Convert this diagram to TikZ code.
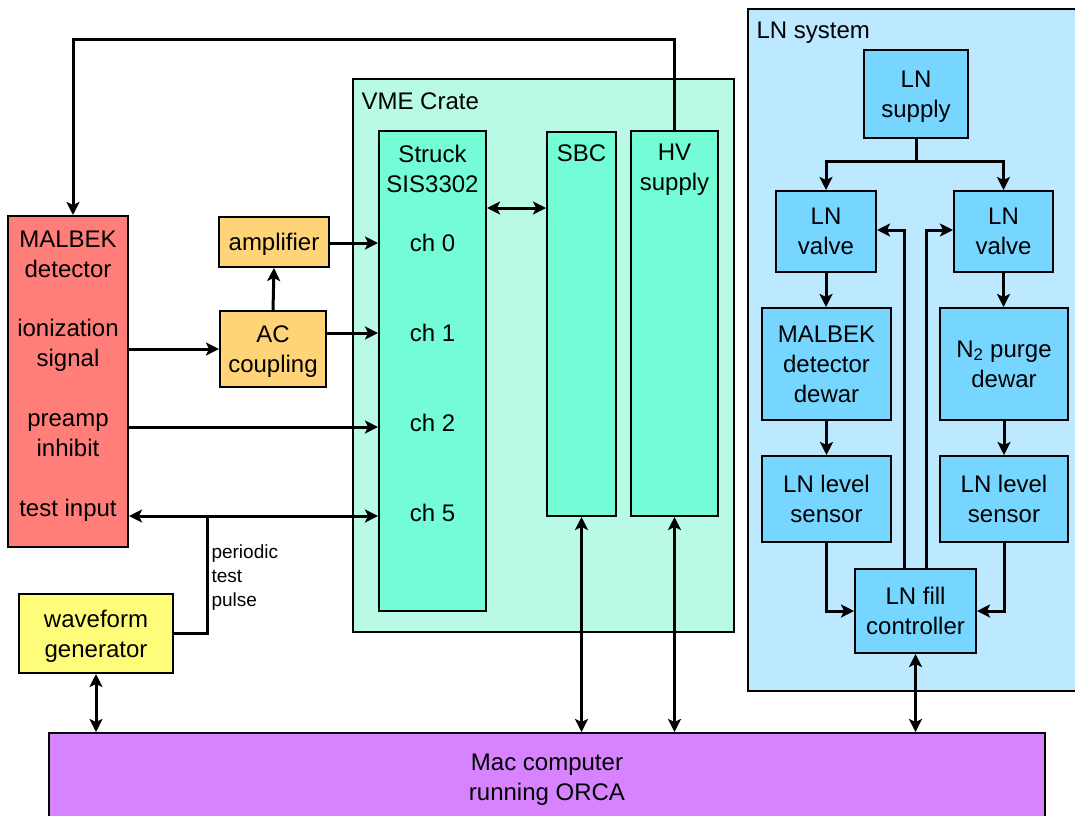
\documentclass[tikz,border=0pt]{standalone}
\usepackage{fontspec}
\setmainfont{Liberation Sans}
\usetikzlibrary{arrows.meta,positioning,calc}
\definecolor{salmon}{HTML}{FF7E79}
\definecolor{cantaloupe}{HTML}{FFD479}
\definecolor{banana}{HTML}{FFFC79}
\definecolor{spindrift}{HTML}{73FCD6}
\definecolor{spindriftlt}{HTML}{B9FAE6}
\definecolor{sky}{HTML}{76D6FF}
\definecolor{skylt}{HTML}{BCE9FF}
\definecolor{lavender}{HTML}{D783FF}

\begin{document}
\begin{tikzpicture}[x=1pt,y=-1pt,
    font=\fontsize{24}{30}\selectfont,
    blk/.style={draw,line width=2pt,inner sep=0pt,align=center,text depth=0pt},
    wire/.style={line width=3pt},
    arr/.style={wire,-{Stealth[length=13pt,width=13pt,inset=3pt]}},
    dbl/.style={wire,{Stealth[length=13pt,width=13pt,inset=3pt]}-{Stealth[length=13pt,width=13pt,inset=3pt]}}]
  \useasboundingbox (0,0) rectangle (1075,815);

  % containers
  \draw[line width=2pt,fill=spindriftlt] (353,79) rectangle (734,632);
  \node[anchor=west] (vmelbl) at (358,101) {VME Crate};
  \draw[line width=2pt,fill=skylt] (748,9) rectangle (1090,691);
  \node[anchor=west] (lnlbl) at (753,33) {LN system};

  % detector side
  \node[blk,fill=salmon,minimum width=120pt,minimum height=331pt] (det) at (68,381.5) {};
  \node (dettxt) at ([yshift=-39pt]det.north) [align=center] {MALBEK\\detector};
  \node[align=center] (ion) at (68,345) {ionization\\signal};
  \node[align=center] (pre) at (68,435) {preamp\\inhibit};
  \node (tst) at (68,510) {test input};
  \node[blk,fill=cantaloupe,minimum width=110pt,minimum height=50pt] (amp) at (274,242) {amplifier};
  \node[blk,fill=cantaloupe,minimum width=106pt,minimum height=76pt] (acc) at (273,349) {AC\\coupling};
  \node[blk,fill=banana,minimum width=154pt,minimum height=79pt] (wav) at (96,633.5) {waveform\\generator};
  \node[anchor=west,align=left,font=\fontsize{19}{24}\selectfont] (pulse) at (208,578) {periodic\\test\\pulse};

  % VME modules
  \node[blk,fill=spindrift,minimum width=107pt,minimum height=480pt] (sis) at (432.5,371) {};
  \node[align=center] (sistxt) at ([yshift=-39pt]sis.north) {Struck\\SIS3302};
  \foreach \c/\y in {0/243,1/333,2/423,5/513}
    \node (ch\c) at (432.5,\y) {ch \c};
  \node[blk,fill=spindrift,minimum width=69pt,minimum height=384pt] (sbc) at (581.5,324) {};
  \node (sbctxt) at ([yshift=-22pt]sbc.north) {SBC};
  \node[blk,fill=spindrift,minimum width=87pt,minimum height=385pt] (hv) at (674.5,323.5) {};
  \node[align=center] (hvtxt) at ([yshift=-40pt]hv.north) {HV\\supply};

  % LN system
  \node[blk,fill=sky,minimum width=104pt,minimum height=88pt] (lnsup) at (916,94) {LN\\supply};
  \node[blk,fill=sky,minimum width=100pt,minimum height=81pt] (valL) at (826,231.5) {LN\\valve};
  \node[blk,fill=sky,minimum width=99pt,minimum height=81pt] (valR) at (1003.5,231.5) {LN\\valve};
  \node[blk,fill=sky,minimum width=129pt,minimum height=112pt] (dewL) at (826.5,364) {MALBEK\\detector\\dewar};
  \node[blk,fill=sky,minimum width=128pt,minimum height=112pt] (dewR) at (1004,364) {N\textsubscript{2} purge\\dewar};
  \node[blk,fill=sky,minimum width=129pt,minimum height=86pt] (senL) at (826.5,499) {LN level\\sensor};
  \node[blk,fill=sky,minimum width=128pt,minimum height=86pt] (senR) at (1004,499) {LN level\\sensor};
  \node[blk,fill=sky,minimum width=121pt,minimum height=84pt] (fill) at (915.5,611) {LN fill\\controller};

  \node[blk,fill=lavender,minimum width=996pt,minimum height=88pt] (mac) at (547,777) {Mac computer\\running ORCA};

  % signal lines
  \coordinate (hvbend) at (674.5,39);
  \draw[arr] (hv.north) -- (hvbend) -| ([xshift=5pt]det.north);
  \draw[arr] (det.east |- acc.west) -- (acc.west);
  \draw[arr] (acc.north) -- (amp.south);
  \draw[arr] (amp.east |- ch0) -- (ch0 -| sis.west);
  \draw[arr] (acc.east |- ch1) -- (ch1 -| sis.west);
  \draw[arr] ([yshift=-4pt]det.east |- ch2) -- ([yshift=-4pt]ch2 -| sis.west);
  \draw[dbl] ([yshift=-3pt]det.east |- ch5) -- ([yshift=-3pt]ch5 -| sis.west);
  \coordinate (tap) at (207,516);
  \draw[wire] (wav.east) -| (tap);
  \coordinate (bus) at (516,208);
  \draw[dbl] (bus -| sis.east) -- (bus -| sbc.west);

  % to the computer
  \foreach \n in {wav,sbc,hv,fill}
    \draw[dbl] (\n.south) -- (\n.south |- mac.north);

  % LN plumbing
  \draw[wire] (lnsup.south) -- ++(0,22) coordinate (split);
  \draw[arr] (split) -| (valL.north);
  \draw[arr] (split) -| (valR.north);
  \foreach \a/\b in {valL/dewL,dewL/senL,valR/dewR,dewR/senR}
    \draw[arr] (\a.south) -- (\a.south |- \b.north);
  \draw[arr] (senL.south) |- (fill.west);
  \draw[arr] (senR.south) |- (fill.east);
  \draw[arr] ([xshift=-11pt]fill.north) |- ([yshift=1.5pt]valL.east);
  \draw[arr] ([xshift=11pt]fill.north) |- ([yshift=1.5pt]valR.west);
\end{tikzpicture}
\end{document}
